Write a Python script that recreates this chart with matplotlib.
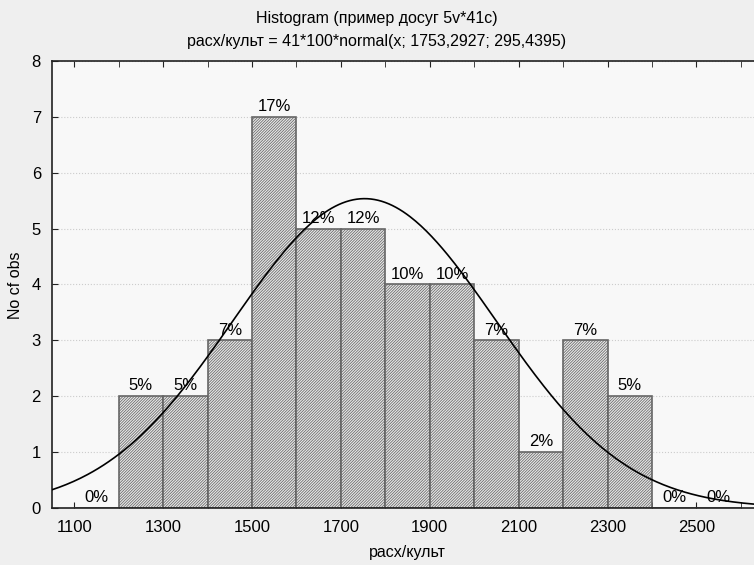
import numpy as np
import matplotlib
matplotlib.use('Agg')
import matplotlib.pyplot as plt

plt.rcParams['font.family'] = ['Liberation Sans', 'DejaVu Sans']
plt.rcParams['hatch.linewidth'] = 0.55
plt.rcParams['hatch.color'] = '#707070'

# данные гистограммы
bin_left = [1100, 1200, 1300, 1400, 1500, 1600, 1700, 1800,
            1900, 2000, 2100, 2200, 2300, 2400, 2500]
counts = [0, 2, 2, 3, 7, 5, 5, 4, 4, 3, 1, 3, 2, 0, 0]
bin_width = 100
n_obs = 41
mean_val = 1753.2927
sd_val = 295.4395
xticks_major = [1100, 1300, 1500, 1700, 1900, 2100, 2300, 2500]

fig = plt.figure(figsize=(7.54, 5.65), dpi=100, facecolor='#efefef')
ax = fig.add_axes([0.069, 0.101, 0.943, 0.791])
ax.set_facecolor('#f8f8f8')

centers = np.array(bin_left) + bin_width / 2
ax.bar(centers, counts, width=bin_width, facecolor='#e8e8e8',
       edgecolor='#666666', linewidth=1.2, hatch='////////////', zorder=2)

# подписи процентов
for c, k in zip(centers, counts):
    pct = int(round(k / n_obs * 100))
    ax.text(c, k + 0.05, f'{pct}%', ha='center', va='bottom',
            fontsize=12, zorder=3)

# кривая нормального распределения
x = np.linspace(1050, 2650, 400)
y = n_obs * bin_width * np.exp(-0.5 * ((x - mean_val) / sd_val) ** 2) / (sd_val * np.sqrt(2 * np.pi))
ax.plot(x, y, color='black', linewidth=1.2, zorder=4)

ax.set_xlim(1050, 2650)
ax.set_ylim(0, 8)
ax.set_xticks(xticks_major)
ax.set_xticks(np.arange(1100, 2700, 100), minor=True)
ax.set_yticks(range(0, 9))
ax.tick_params(axis='both', which='both', direction='in', labelsize=12,
               top=True, color='#222222')
ax.tick_params(axis='x', which='both', length=4, pad=9)
ax.tick_params(axis='y', length=4, pad=8)
ax.yaxis.grid(True, linestyle=':', color='#cccccc', linewidth=0.8, zorder=0)
ax.set_axisbelow(True)
for s in ['left', 'bottom', 'top']:
    ax.spines[s].set_color('#222222')
    ax.spines[s].set_linewidth(1.2)

# подписи осей
fig.text(0.540, 0.022, 'расх/культ', ha='center', va='center', fontsize=11.5)
fig.text(0.020, 0.496, 'No cf obs', ha='center', va='center', rotation=90, fontsize=11.5)

fig.text(0.5, 0.968, 'Histogram (пример досуг 5v*41c)', ha='center', va='center', fontsize=11.5)
fig.text(0.5, 0.926, 'расх/культ = 41*100*normal(x; 1753,2927; 295,4395)',
         ha='center', va='center', fontsize=11.5)

fig.savefig('out.png', dpi=100, facecolor=fig.get_facecolor())
